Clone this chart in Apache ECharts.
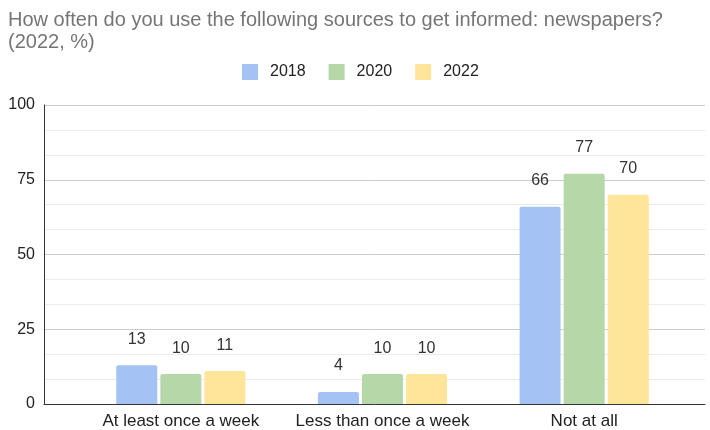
<!DOCTYPE html>
<html>
<head>
<meta charset="utf-8">
<script src="https://cdn.jsdelivr.net/npm/echarts@6/dist/echarts.min.js"></script>
<style>
  html, body { margin: 0; padding: 0; background: #fff; }
  #chart { width: 710px; height: 430px; }
</style>
</head>
<body>
<div id="chart"></div>
<script>
// data
const categories = ['At least once a week', 'Less than once a week', 'Not at all'];
const years = ['2018', '2020', '2022'];
const values2018 = [13, 4, 66];
const values2020 = [10, 10, 77];
const values2022 = [11, 10, 70];
const yTicks = [0, 25, 50, 75, 100];

const colors = ['#a4c2f4', '#b6d7a8', '#ffe599'];
const seriesValues = [values2018, values2020, values2022];
const font = '"Liberation Sans", Arial, sans-serif';

const chart = echarts.init(document.getElementById('chart'));

const option = {
  animation: false,
  textStyle: { fontFamily: font },
  title: {
    text: 'How often do you use the following sources to get informed: newspapers?\n(2022, %)',
    left: 3,
    top: 4,
    textStyle: { fontFamily: font, fontSize: 20, fontWeight: 'normal', color: '#757575', lineHeight: 22 }
  },
  legend: {
    data: years,
    top: 59,
    left: 237,
    itemWidth: 16,
    itemHeight: 16,
    itemGap: 23,
    icon: 'rect',
    textStyle: { fontFamily: font, fontSize: 16, color: '#222', padding: [0, 0, 0, 7] }
  },
  // outer grid holds the axis lines and gridlines, inner grid holds the bars
  grid: [
    { left: 44, right: 5, top: 105, bottom: 26 },
    { left: 80, right: 25, top: 105, bottom: 26 }
  ],
  xAxis: [
    {
      gridIndex: 0,
      type: 'category',
      data: categories,
      axisTick: { show: false },
      axisLabel: { show: false },
      axisLine: { lineStyle: { color: '#333', width: 1 } }
    },
    {
      gridIndex: 1,
      type: 'category',
      data: categories,
      axisTick: { show: false },
      axisLine: { show: false },
      axisLabel: { interval: 0, fontFamily: font, fontSize: 17, color: '#222', margin: 9 }
    }
  ],
  yAxis: [
    {
      gridIndex: 0,
      type: 'value',
      min: yTicks[0],
      max: yTicks[yTicks.length - 1],
      interval: 25,
      axisLine: { show: true, lineStyle: { color: '#333' } },
      axisTick: { show: false },
      axisLabel: { fontFamily: font, fontSize: 16, color: '#222', margin: 9 },
      splitLine: { lineStyle: { color: '#cccccc' } },
      minorTick: { show: false, splitNumber: 3 },
      minorSplitLine: { show: true, lineStyle: { color: '#ebebeb' } }
    },
    {
      gridIndex: 1,
      type: 'value',
      min: yTicks[0],
      max: yTicks[yTicks.length - 1],
      show: false
    }
  ],
  series: years.map((y, i) => ({
    name: y,
    type: 'bar',
    xAxisIndex: 1,
    yAxisIndex: 1,
    data: seriesValues[i],
    barWidth: 41,
    barGap: '7.5%',
    itemStyle: { color: colors[i], borderRadius: [2, 2, 0, 0] },
    label: { show: true, position: 'top', distance: 18, fontFamily: font, fontSize: 16, color: '#333' }
  }))
};

chart.setOption(option);
</script>
</body>
</html>
